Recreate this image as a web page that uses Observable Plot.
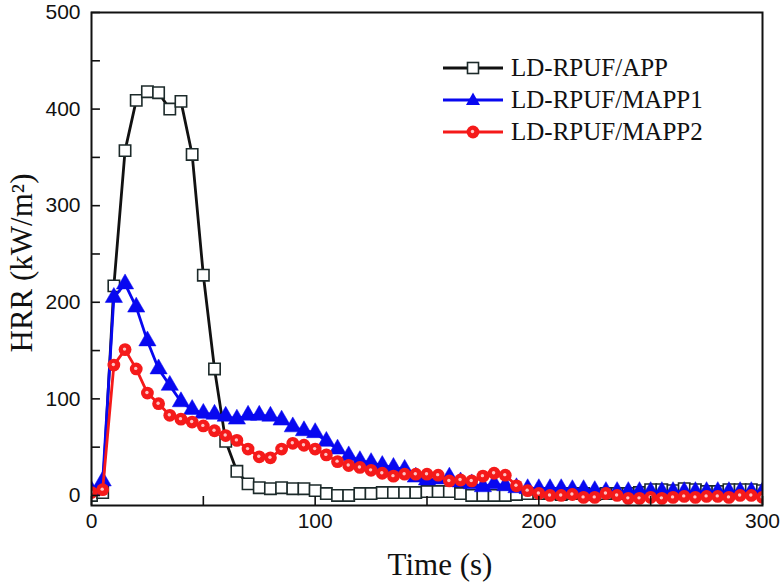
<!DOCTYPE html>
<html>
<head>
<meta charset="utf-8">
<script src="https://cdn.jsdelivr.net/npm/d3@7"></script>
<script src="https://cdn.jsdelivr.net/npm/@observablehq/plot@0.6"></script>
<style>
  html, body { margin: 0; padding: 0; background: #fff; }
  #wrap { position: relative; width: 782px; height: 583px; }
  #legend { position: absolute; left: 443px; top: 52px; font-family: "Liberation Serif", "Times New Roman", serif; font-size: 25px; color: #111; }
  #legend .row { display: flex; align-items: center; height: 32px; }
  #legend svg { margin-right: 8px; }
</style>
</head>
<body>
<div id="wrap"><div id="legend"></div></div>
<script>
// ---- data ----
const times = [0,5,10,15,20,25,30,35,40,45,50,55,60,65,70,75,80,85,90,95,100,105,110,115,120,125,130,135,140,145,150,155,160,165,170,175,180,185,190,195,200,205,210,215,220,225,230,235,240,245,250,255,260,265,270,275,280,285,290,295,300];
const hrrAPP = [0,3,217,357,409,418,417,400,408,353,228,131,56,25,12,8,7,8,7,7,5,2,0,0,2,2,3,3,3,3,4,4,4,2,0,0,0,0,1,2,2,2,1,2,2,1,2,2,2,3,6,6,5,7,6,4,4,6,6,6,5];
const hrrMAPP1 = [5,15,205,219,195,160,131,114,97,89,85,84,82,79,83,83,82,78,71,67,65,56,48,41,36,34,31,29,27,19,16,17,19,14,12,9,12,10,8,7,7,7,7,6,6,5,4,4,4,4,4,4,4,4,4,4,4,4,4,4,4];
const hrrMAPP2 = [3,6,135,151,131,106,95,83,79,76,72,67,62,57,48,40,39,48,54,52,48,42,35,31,29,26,23,20,22,22,22,21,15,16,15,20,23,21,10,5,2,0,0,1,-2,-2,2,0,-3,-3,-2,-3,-2,-1,-2,-1,-1,-2,0,0,-2];
const seriesNames = ["LD-RPUF/APP", "LD-RPUF/MAPP1", "LD-RPUF/MAPP2"];
const xTickLabels = [0,100,200,300];
const yTickLabels = [0,100,200,300,400,500];
const xMinorTicks = [0,50,100,150,200,250,300];
const yMinorTicks = [0,50,100,150,200,250,300,350,400,450,500];

// ---- build tables ----
const rowsAPP = times.map((t, i) => ({t, v: hrrAPP[i]}));
const rowsM1 = times.map((t, i) => ({t, v: hrrMAPP1[i]}));
const rowsM2 = times.map((t, i) => ({t, v: hrrMAPP2[i]}));

const BLACK = "#111111", BLUE = "#0808f0", RED = "#f51a1a";
const yMin = -10.4, xMin = 0;
const tickLenY = 9.3, tickLenX = 4;
const sans = "'Liberation Sans', Arial, sans-serif";
const serif = "'Liberation Serif', 'Times New Roman', serif";

const chart = Plot.plot({
  width: 782,
  height: 583,
  marginLeft: 91,
  marginRight: 20,
  marginTop: 12,
  marginBottom: 78,
  style: {background: "white", color: "#111"},
  x: {domain: [0, 300]},
  y: {domain: [yMin, 500]},
  marks: [
    // data lines
    Plot.line(rowsAPP, {x: "t", y: "v", stroke: BLACK, strokeWidth: 2.8, clip: true}),
    Plot.dot(rowsAPP, {x: "t", y: "v", symbol: "square", r: 6.4, fill: "white", stroke: "#1c2a2a", strokeWidth: 1.6, clip: true}),
    Plot.line(rowsM1, {x: "t", y: "v", stroke: BLUE, strokeWidth: 2.8, clip: true}),
    Plot.dot(rowsM1, {x: "t", y: "v", symbol: "triangle", r: 6.4, fill: BLUE, stroke: BLUE, strokeWidth: 0.5, clip: true}),
    Plot.line(rowsM2, {x: "t", y: "v", stroke: RED, strokeWidth: 2.8, clip: true}),
    Plot.dot(rowsM2, {x: "t", y: "v", r: 6.4, fill: RED, stroke: "none", clip: true}),
    Plot.dot(rowsM2, {x: "t", y: "v", r: 1.7, dx: -0.5, dy: -0.5, fill: "#ffc4c4", stroke: "none", clip: true}),
    // inward ticks
    Plot.ruleX(xMinorTicks, {x: d => d, y1: yMin, y2: yMin + tickLenY, stroke: BLACK, strokeWidth: 1.6}),
    Plot.ruleY(yMinorTicks, {y: d => d, x1: xMin, x2: xMin + tickLenX, stroke: BLACK, strokeWidth: 1.6}),
    // tick labels
    Plot.axisX({ticks: xTickLabels, tickSize: 0, tickPadding: 8, fontSize: 21, fontFamily: sans, label: null, tickFormat: d => String(d)}),
    Plot.axisY({ticks: yTickLabels, tickSize: 0, tickPadding: 11, fontSize: 21, fontFamily: sans, label: null, tickFormat: d => String(d)}),
    // axis titles
    Plot.text(["Time (s)"], {frameAnchor: "bottom", text: d => d, textAnchor: "middle", dx: 13, dy: 60, lineAnchor: "middle", fontSize: 31, fontFamily: serif, fill: BLACK}),
    Plot.text(["HRR (kW/m²)"], {frameAnchor: "left", text: d => d, textAnchor: "middle", rotate: -90, dx: -69, dy: 4, fontSize: 31, fontFamily: serif, fill: BLACK}),
    Plot.frame({stroke: BLACK, strokeWidth: 2})
  ]
});
const wrap = document.getElementById("wrap");
wrap.insertBefore(chart, wrap.firstChild);

// ---- legend (inside the plot, top right) ----
const legendSymbols = [
  `<line x1="0" y1="10" x2="60" y2="10" stroke="${BLACK}" stroke-width="2.8"/><rect x="24.5" y="4.5" width="11" height="11" fill="white" stroke="#1c2a2a" stroke-width="1.6"/>`,
  `<line x1="0" y1="10" x2="60" y2="10" stroke="${BLUE}" stroke-width="2.8"/><path d="M30,2.5 L37,15 L23,15 Z" fill="${BLUE}"/>`,
  `<line x1="0" y1="10" x2="60" y2="10" stroke="${RED}" stroke-width="2.8"/><circle cx="30" cy="10" r="6.4" fill="${RED}"/><circle cx="29.5" cy="9.5" r="1.7" fill="#ffc4c4"/>`
];
const legend = document.getElementById("legend");
seriesNames.forEach((name, i) => {
  const row = document.createElement("div");
  row.className = "row";
  row.innerHTML = `<svg width="60" height="20" viewBox="0 0 60 20">${legendSymbols[i]}</svg><span>${name}</span>`;
  legend.appendChild(row);
});
</script>
</body>
</html>
